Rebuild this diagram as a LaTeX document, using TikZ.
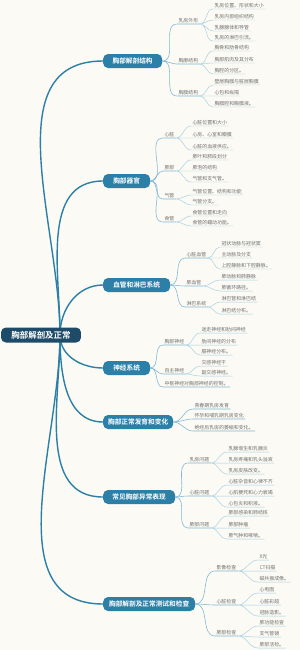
\documentclass[tikz,border=0pt]{standalone}
\usepackage{fontspec}
\newfontfamily\cjk[BoldFont={Noto Sans CJK SC Bold}]{Noto Sans CJK SC}
\usetikzlibrary{positioning}
\definecolor{paper}{HTML}{FBFAF4}
\definecolor{rootcol}{HTML}{1D4B68}
\definecolor{mainblue}{HTML}{2C80A8}
\definecolor{linkblue}{HTML}{7DB8D4}
\definecolor{leafblue}{HTML}{A9D2E4}
\definecolor{inkgray}{HTML}{707070}
\tikzset{
  rootnode/.style={fill=rootcol, text=white, rounded corners=7pt, minimum width=4cm, minimum height=0.75cm, font=\cjk\bfseries\fontsize{12}{14}\selectfont},
  topicnode/.style={fill=mainblue, text=white, rounded corners=7pt, anchor=west, minimum height=0.7cm, font=\cjk\bfseries\fontsize{9.5}{11}\selectfont},
  leafnode/.style={anchor=south west, inner xsep=2pt, inner ysep=1pt, text=inkgray, font=\cjk\fontsize{7}{8}\selectfont},
  trunkline/.style={mainblue, line width=2pt},
  branchline/.style={linkblue, line width=0.8pt},
  twigline/.style={leafblue, line width=0.7pt}
}
\begin{document}
\begin{tikzpicture}[x=0.05cm, y=-0.05cm]
  \useasboundingbox (0,0) rectangle (300,650);
  \fill[paper] (0,0) rectangle (300,650);

  % main topics
  \coordinate (hub) at (60,335);
  \node[topicnode, minimum width=2.95cm] (b1) at (103,61) {胸部解剖结构};
  \node[topicnode, minimum width=2.35cm] (b2) at (103,181) {胸部器官};
  \node[topicnode, minimum width=3.35cm] (b3) at (103,285) {血管和淋巴系统};
  \node[topicnode, minimum width=2.35cm] (b4) at (103,368) {神经系统};
  \node[topicnode, minimum width=3.5cm] (b5) at (103,422) {胸部正常发育和变化};
  \node[topicnode, minimum width=3.6cm] (b6) at (103,497) {常见胸部异常表现};
  \node[topicnode, minimum width=4.6cm] (b7) at (103,604) {胸部解剖及正常测试和检查};
  \draw[trunkline] (hub) to[out=90,in=180] (b1.west);
  \draw[trunkline] (hub) to[out=90,in=180] (b2.west);
  \draw[trunkline] (hub) to[out=90,in=180] (b3.west);
  \draw[trunkline] (hub) to[out=-90,in=180] (b4.west);
  \draw[trunkline] (hub) to[out=-90,in=180] (b5.west);
  \draw[trunkline] (hub) to[out=-90,in=180] (b6.west);
  \draw[trunkline] (hub) to[out=-90,in=180] (b7.west);
  \node[rootnode] (root) at (41,335) {胸部解剖及正常};

  % 胸部解剖结构
  \node[leafnode] (s11) at (177,24) {乳房外形};
  \node[leafnode] (l111) at (213,9) {乳房位置、形状和大小};
  \node[leafnode] (l112) at (213,20) {乳房内部组织结构};
  \node[leafnode] (l113) at (213,31) {乳腺腺体和导管};
  \node[leafnode] (l114) at (213,41) {乳房的淋巴引流。};
  \node[leafnode] (s12) at (177,64) {胸廓结构};
  \node[leafnode] (l121) at (213,51) {胸骨和肋骨结构};
  \node[leafnode] (l122) at (213,63) {胸部肌肉及其分布};
  \node[leafnode] (l123) at (213,74) {胸腔的分区。};
  \node[leafnode] (s13) at (177,96) {胸膜结构};
  \node[leafnode] (l131) at (213,85) {壁层胸膜与脏层胸膜};
  \node[leafnode] (l132) at (213,96) {心包和纵隔};
  \node[leafnode] (l133) at (213,107) {胸膜腔和胸膜液。};
  \draw[branchline] (b1.east) to[out=0,in=180] (s11.south west) -- (s11.south east);
  \draw[branchline] (b1.east) to[out=0,in=180] (s12.south west) -- (s12.south east);
  \draw[branchline] (b1.east) to[out=0,in=180] (s13.south west) -- (s13.south east);
  \draw[twigline] (s11.south east) to[out=0,in=180] (l111.south west) -- (l111.south east)
                  (s11.south east) to[out=0,in=180] (l112.south west) -- (l112.south east)
                  (s11.south east) to[out=0,in=180] (l113.south west) -- (l113.south east)
                  (s11.south east) to[out=0,in=180] (l114.south west) -- (l114.south east);
  \draw[twigline] (s12.south east) to[out=0,in=180] (l121.south west) -- (l121.south east)
                  (s12.south east) to[out=0,in=180] (l122.south west) -- (l122.south east)
                  (s12.south east) to[out=0,in=180] (l123.south west) -- (l123.south east);
  \draw[twigline] (s13.south east) to[out=0,in=180] (l131.south west) -- (l131.south east)
                  (s13.south east) to[out=0,in=180] (l132.south west) -- (l132.south east)
                  (s13.south east) to[out=0,in=180] (l133.south west) -- (l133.south east);

  % 胸部器官
  \node[leafnode] (s21) at (163,138) {心脏};
  \node[leafnode] (l211) at (191,126) {心脏位置和大小};
  \node[leafnode] (l212) at (191,138) {心房、心室和瓣膜};
  \node[leafnode] (l213) at (191,150) {心脏的血液供应。};
  \node[leafnode] (s22) at (163,171) {肺部};
  \node[leafnode] (l221) at (191,160) {肺叶和肺段划分};
  \node[leafnode] (l222) at (191,171) {肺泡的结构};
  \node[leafnode] (l223) at (191,182) {气管和支气管。};
  \node[leafnode] (s23) at (163,199) {气管};
  \node[leafnode] (l231) at (191,195) {气管位置、结构和功能};
  \node[leafnode] (l232) at (191,205) {气管分支。};
  \node[leafnode] (s24) at (163,222) {食管};
  \node[leafnode] (l241) at (191,216) {食管位置和走向};
  \node[leafnode] (l242) at (191,226) {食管的蠕动功能。};
  \draw[branchline] (b2.east) to[out=0,in=180] (s21.south west) -- (s21.south east);
  \draw[branchline] (b2.east) to[out=0,in=180] (s22.south west) -- (s22.south east);
  \draw[branchline] (b2.east) to[out=0,in=180] (s23.south west) -- (s23.south east);
  \draw[branchline] (b2.east) to[out=0,in=180] (s24.south west) -- (s24.south east);
  \draw[twigline] (s21.south east) to[out=0,in=180] (l211.south west) -- (l211.south east)
                  (s21.south east) to[out=0,in=180] (l212.south west) -- (l212.south east)
                  (s21.south east) to[out=0,in=180] (l213.south west) -- (l213.south east);
  \draw[twigline] (s22.south east) to[out=0,in=180] (l221.south west) -- (l221.south east)
                  (s22.south east) to[out=0,in=180] (l222.south west) -- (l222.south east)
                  (s22.south east) to[out=0,in=180] (l223.south west) -- (l223.south east);
  \draw[twigline] (s23.south east) to[out=0,in=180] (l231.south west) -- (l231.south east)
                  (s23.south east) to[out=0,in=180] (l232.south west) -- (l232.south east);
  \draw[twigline] (s24.south east) to[out=0,in=180] (l241.south west) -- (l241.south east)
                  (s24.south east) to[out=0,in=180] (l242.south west) -- (l242.south east);

  % 血管和淋巴系统
  \node[leafnode] (s31) at (185,258) {心脏血管};
  \node[leafnode] (l311) at (220,247) {冠状动脉与冠状窦};
  \node[leafnode] (l312) at (220,258) {主动脉及分支};
  \node[leafnode] (l313) at (220,269) {上腔静脉和下腔静脉。};
  \node[leafnode] (s32) at (185,286) {肺血管};
  \node[leafnode] (l321) at (220,280) {肺动脉和肺静脉};
  \node[leafnode] (l322) at (220,291) {肺循环路径。};
  \node[leafnode] (s33) at (185,307) {淋巴系统};
  \node[leafnode] (l331) at (220,302) {淋巴管和淋巴结};
  \node[leafnode] (l332) at (220,314) {淋巴结分布。};
  \draw[branchline] (b3.east) to[out=0,in=180] (s31.south west) -- (s31.south east);
  \draw[branchline] (b3.east) to[out=0,in=180] (s32.south west) -- (s32.south east);
  \draw[branchline] (b3.east) to[out=0,in=180] (s33.south west) -- (s33.south east);
  \draw[twigline] (s31.south east) to[out=0,in=180] (l311.south west) -- (l311.south east)
                  (s31.south east) to[out=0,in=180] (l312.south west) -- (l312.south east)
                  (s31.south east) to[out=0,in=180] (l313.south west) -- (l313.south east);
  \draw[twigline] (s32.south east) to[out=0,in=180] (l321.south west) -- (l321.south east)
                  (s32.south east) to[out=0,in=180] (l322.south west) -- (l322.south east);
  \draw[twigline] (s33.south east) to[out=0,in=180] (l331.south west) -- (l331.south east)
                  (s33.south east) to[out=0,in=180] (l332.south west) -- (l332.south east);

  % 神经系统
  \node[leafnode] (s41) at (163,345) {胸部神经};
  \node[leafnode] (l411) at (200,333) {迷走神经和肋间神经};
  \node[leafnode] (l412) at (200,345) {肋间神经的分布};
  \node[leafnode] (l413) at (200,355) {膈神经分布。};
  \node[leafnode] (s42) at (163,374) {自主神经};
  \node[leafnode] (l421) at (200,366) {交感神经干};
  \node[leafnode] (l422) at (200,376) {副交感神经。};
  \node[leafnode] (s43) at (163,387) {中枢神经对胸部神经的控制。};
  \draw[branchline] (b4.east) to[out=0,in=180] (s41.south west) -- (s41.south east);
  \draw[branchline] (b4.east) to[out=0,in=180] (s42.south west) -- (s42.south east);
  \draw[branchline] (b4.east) to[out=0,in=180] (s43.south west) -- (s43.south east);
  \draw[twigline] (s41.south east) to[out=0,in=180] (l411.south west) -- (l411.south east)
                  (s41.south east) to[out=0,in=180] (l412.south west) -- (l412.south east)
                  (s41.south east) to[out=0,in=180] (l413.south west) -- (l413.south east);
  \draw[twigline] (s42.south east) to[out=0,in=180] (l421.south west) -- (l421.south east)
                  (s42.south east) to[out=0,in=180] (l422.south west) -- (l422.south east);

  % 胸部正常发育和变化
  \node[leafnode] (s51) at (193,409) {青春期乳房发育};
  \node[leafnode] (s52) at (193,419) {怀孕和哺乳期乳房变化};
  \node[leafnode] (s53) at (193,431) {绝经后乳房的萎缩和变化。};
  \draw[branchline] (b5.east) to[out=0,in=180] (s51.south west) -- (s51.south east);
  \draw[branchline] (b5.east) to[out=0,in=180] (s52.south west) -- (s52.south east);
  \draw[branchline] (b5.east) to[out=0,in=180] (s53.south west) -- (s53.south east);

  % 常见胸部异常表现
  \node[leafnode] (s61) at (188,463) {乳房问题};
  \node[leafnode] (l611) at (227,452) {乳腺增生和乳腺炎};
  \node[leafnode] (l612) at (227,463) {乳房疼痛和乳头溢液};
  \node[leafnode] (l613) at (227,474) {乳房皮肤改变。};
  \node[leafnode] (s62) at (188,496) {心脏问题};
  \node[leafnode] (l621) at (227,485) {心脏杂音和心律不齐};
  \node[leafnode] (l622) at (227,496) {心肌梗死和心力衰竭};
  \node[leafnode] (l623) at (227,507) {心包炎和积液。};
  \node[leafnode] (s63) at (188,528) {肺部问题};
  \node[leafnode] (l631) at (227,516) {肺部感染和肺结核};
  \node[leafnode] (l632) at (227,528) {肺部肿瘤};
  \node[leafnode] (l633) at (227,539) {肺气肿和哮喘。};
  \draw[branchline] (b6.east) to[out=0,in=180] (s61.south west) -- (s61.south east);
  \draw[branchline] (b6.east) to[out=0,in=180] (s62.south west) -- (s62.south east);
  \draw[branchline] (b6.east) to[out=0,in=180] (s63.south west) -- (s63.south east);
  \draw[twigline] (s61.south east) to[out=0,in=180] (l611.south west) -- (l611.south east)
                  (s61.south east) to[out=0,in=180] (l612.south west) -- (l612.south east)
                  (s61.south east) to[out=0,in=180] (l613.south west) -- (l613.south east);
  \draw[twigline] (s62.south east) to[out=0,in=180] (l621.south west) -- (l621.south east)
                  (s62.south east) to[out=0,in=180] (l622.south west) -- (l622.south east)
                  (s62.south east) to[out=0,in=180] (l623.south west) -- (l623.south east);
  \draw[twigline] (s63.south east) to[out=0,in=180] (l631.south west) -- (l631.south east)
                  (s63.south east) to[out=0,in=180] (l632.south west) -- (l632.south east)
                  (s63.south east) to[out=0,in=180] (l633.south west) -- (l633.south east);

  % 测试和检查
  \node[leafnode] (s71) at (215,571) {影像检查};
  \node[leafnode] (l711) at (258,560) {X光};
  \node[leafnode] (l712) at (258,571) {CT扫描};
  \node[leafnode] (l713) at (258,582) {磁共振成像。};
  \node[leafnode] (s72) at (215,605) {心脏检查};
  \node[leafnode] (l721) at (258,593) {心电图};
  \node[leafnode] (l722) at (258,605) {心脏彩超};
  \node[leafnode] (l723) at (258,616) {冠脉造影。};
  \node[leafnode] (s73) at (215,636) {肺部检查};
  \node[leafnode] (l731) at (258,626) {肺功能检查};
  \node[leafnode] (l732) at (258,637) {支气管镜};
  \node[leafnode] (l733) at (258,648) {肺部活检。};
  \draw[branchline] (b7.east) to[out=0,in=180] (s71.south west) -- (s71.south east);
  \draw[branchline] (b7.east) to[out=0,in=180] (s72.south west) -- (s72.south east);
  \draw[branchline] (b7.east) to[out=0,in=180] (s73.south west) -- (s73.south east);
  \draw[twigline] (s71.south east) to[out=0,in=180] (l711.south west) -- (l711.south east)
                  (s71.south east) to[out=0,in=180] (l712.south west) -- (l712.south east)
                  (s71.south east) to[out=0,in=180] (l713.south west) -- (l713.south east);
  \draw[twigline] (s72.south east) to[out=0,in=180] (l721.south west) -- (l721.south east)
                  (s72.south east) to[out=0,in=180] (l722.south west) -- (l722.south east)
                  (s72.south east) to[out=0,in=180] (l723.south west) -- (l723.south east);
  \draw[twigline] (s73.south east) to[out=0,in=180] (l731.south west) -- (l731.south east)
                  (s73.south east) to[out=0,in=180] (l732.south west) -- (l732.south east)
                  (s73.south east) to[out=0,in=180] (l733.south west) -- (l733.south east);
\end{tikzpicture}
\end{document}
